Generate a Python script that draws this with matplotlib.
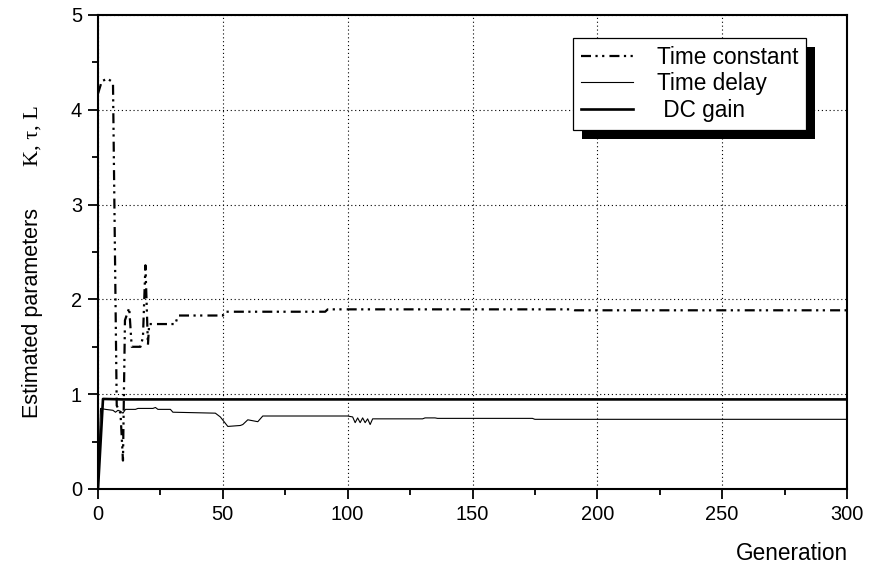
import matplotlib
matplotlib.use('Agg')
import matplotlib.pyplot as plt
from matplotlib.patches import Rectangle
from matplotlib.transforms import IdentityTransform
from matplotlib.ticker import MultipleLocator

plt.rcParams['font.family'] = ['Liberation Sans', 'DejaVu Sans']

# Time constant (dash-dot-dot)
tc_gen = [0, 1.5, 3.7, 6, 7.5, 9, 10, 10.8, 12.5, 13.5, 17, 18, 19, 20, 20.5, 31, 32, 50, 51, 91, 92, 190, 191, 300]
tc_val = [4.17, 4.3, 4.33, 4.29, 0.88, 0.8, 0.3, 1.78, 1.91, 1.5, 1.5, 1.6, 2.36, 1.52, 1.74, 1.74, 1.83, 1.83, 1.87, 1.87, 1.895, 1.895, 1.885, 1.885]

# Time delay (thin)
td_gen = [0, 1, 3, 6, 7, 8, 9, 10, 11, 15, 16, 22, 23, 24, 29, 30, 47, 49, 52, 57, 58, 60, 62, 64, 66,
          100, 102, 103, 104, 105, 106, 107, 108, 109, 110, 130, 131, 135, 136, 174, 175, 300]
td_val = [0.0, 0.85, 0.84, 0.83, 0.81, 0.83, 0.82, 0.80, 0.84, 0.84, 0.85, 0.85, 0.86, 0.84, 0.84, 0.81, 0.80, 0.76, 0.66, 0.67, 0.68, 0.73, 0.72, 0.71, 0.77,
          0.77, 0.76, 0.70, 0.75, 0.70, 0.75, 0.70, 0.74, 0.68, 0.74, 0.74, 0.75, 0.75, 0.745, 0.745, 0.735, 0.735]

# DC gain (thick)
dc_gen = [0, 2, 10, 300]
dc_val = [0.0, 0.95, 0.945, 0.945]

fig = plt.figure(figsize=(8.69, 5.69), dpi=100)
ax = fig.add_axes([98/869, 1 - 489/569, 749/869, 474/569])

ax.plot(tc_gen, tc_val, color='black', lw=1.6, linestyle=(0, (4.5, 2, 1, 2, 1, 2.3)), label='Time constant')
ax.plot(td_gen, td_val, color='black', lw=0.8, label='Time delay')
ax.plot(dc_gen, dc_val, color='black', lw=1.9, label=' DC gain')

ax.set_xlim(0, 300)
ax.set_ylim(0, 5)
ax.xaxis.set_major_locator(MultipleLocator(50))
ax.xaxis.set_minor_locator(MultipleLocator(25))
ax.yaxis.set_major_locator(MultipleLocator(1))
ax.yaxis.set_minor_locator(MultipleLocator(0.5))
ax.tick_params(which='major', direction='out', length=7, width=1.3, labelsize=14.4, pad=4.5)
ax.tick_params(which='minor', direction='out', length=4.5, width=1.3)
for s in ax.spines.values():
    s.set_linewidth(1.5)
ax.grid(True, which='major', linestyle=(0, (1, 2.5)), color='black', lw=0.8)

# labels
fig.text(33/869, 1 - 313/569, 'Estimated parameters', rotation=90, ha='center', va='center', fontsize=15.5)
fig.text(33/869, 1 - 136/569, 'K, \u03c4, L', rotation=90, ha='center', va='center', fontsize=16,
         family=['Liberation Serif', 'DejaVu Serif'])
fig.text(848/869, 1 - 560/569, 'Generation', ha='right', va='baseline', fontsize=16.3)

leg = ax.legend(loc='upper left', bbox_to_anchor=((573 - 98)/749, (489 - 38)/474),
                fontsize=16.3, handlelength=2.3, handletextpad=1.05, labelspacing=0.15,
                borderpad=0.35, borderaxespad=0, fancybox=False, framealpha=1, edgecolor='black')
leg.get_frame().set_linewidth(0.9)

fig.canvas.draw()
bb = leg.get_window_extent()
shadow = Rectangle((bb.x0 + 9, bb.y0 - 9), bb.width, bb.height, transform=IdentityTransform(),
                   facecolor='black', edgecolor='none', zorder=leg.get_zorder() - 0.1, clip_on=False)
ax.add_patch(shadow)

fig.savefig('out.png', dpi=100)
